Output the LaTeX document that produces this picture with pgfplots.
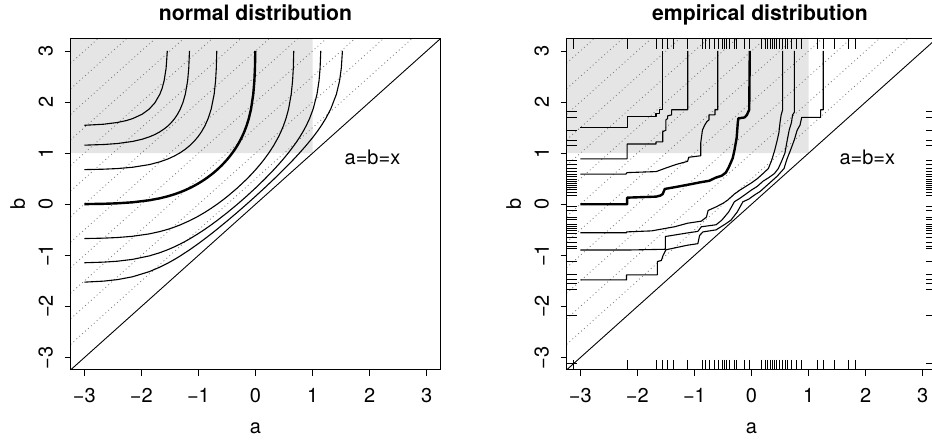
\documentclass[border=0pt]{standalone}
\usepackage{pgfplots}
\pgfplotsset{compat=1.18}
\usepackage{pgfplotstable}
\usepackage{fontspec}
\setmainfont{TeX Gyre Heros}
\definecolor{shade}{RGB}{229,229,229}
\definecolor{dotc}{RGB}{120,120,120}

\pgfplotstableread{
v bot top lft rgt
-3.123 -3.1422 3.1422 -3.1524 3.1524
-2.18 -3.1422 3.1422 -3.1524 3.1524
-1.674 -3.1422 3.1422 -3.1524 3.1524
-1.556 -3.1422 3.1422 -3.1524 3.1524
-1.469 -3.1422 3.1422 -3.1524 3.1524
-1.37 -3.1422 3.1422 -3.1524 3.1524
-1.118 -3.1422 3.1422 -3.1524 3.1524
-0.855 -3.1422 3.1422 -3.1524 3.1524
-0.815 -3.1422 3.1422 -3.1524 3.1524
-0.74 -3.1422 3.1422 -3.1524 3.1524
-0.652 -3.1422 3.1422 -3.1524 3.1524
-0.58 -3.1422 3.1422 -3.1524 3.1524
-0.517 -3.1422 3.1422 -3.1524 3.1524
-0.476 -3.1422 3.1422 -3.1524 3.1524
-0.435 -3.1422 3.1422 -3.1524 3.1524
-0.389 -3.1422 3.1422 -3.1524 3.1524
-0.30 -3.1422 3.1422 -3.1524 3.1524
-0.26 -3.1422 3.1422 -3.1524 3.1524
-0.126 -3.1422 3.1422 -3.1524 3.1524
-0.04 -3.1422 3.1422 -3.1524 3.1524
0.166 -3.1422 3.1422 -3.1524 3.1524
0.236 -3.1422 3.1422 -3.1524 3.1524
0.283 -3.1422 3.1422 -3.1524 3.1524
0.324 -3.1422 3.1422 -3.1524 3.1524
0.371 -3.1422 3.1422 -3.1524 3.1524
0.41 -3.1422 3.1422 -3.1524 3.1524
0.44 -3.1422 3.1422 -3.1524 3.1524
0.487 -3.1422 3.1422 -3.1524 3.1524
0.546 -3.1422 3.1422 -3.1524 3.1524
0.592 -3.1422 3.1422 -3.1524 3.1524
0.634 -3.1422 3.1422 -3.1524 3.1524
0.692 -3.1422 3.1422 -3.1524 3.1524
0.78 -3.1422 3.1422 -3.1524 3.1524
0.867 -3.1422 3.1422 -3.1524 3.1524
1.148 -3.1422 3.1422 -3.1524 3.1524
1.258 -3.1422 3.1422 -3.1524 3.1524
1.45 -3.1422 3.1422 -3.1524 3.1524
1.703 -3.1422 3.1422 -3.1524 3.1524
1.813 -3.1422 3.1422 -3.1524 3.1524
}\rugdata

\tikzset{refdot/.style={dotc, line width=0.8pt, dash pattern=on 0.9pt off 3pt}}
\newcommand{\refset}{%
  \addplot[fill=shade, draw=none] coordinates {(-3.24,1) (1,1) (1,3.24) (-3.24,3.24) (-3.24,1)};
  \addplot[refdot] coordinates {(-3.24,-2.74) (2.74,3.24)};
  \addplot[refdot] coordinates {(-3.24,-2.24) (2.24,3.24)};
  \addplot[refdot] coordinates {(-3.24,-1.74) (1.74,3.24)};
  \addplot[refdot] coordinates {(-3.24,-1.24) (1.24,3.24)};
  \addplot[refdot] coordinates {(-3.24,-0.74) (0.74,3.24)};
  \addplot[refdot] coordinates {(-3.24,-0.24) (0.24,3.24)};
  \addplot[refdot] coordinates {(-3.24,0.26) (-0.26,3.24)};
  \addplot[refdot] coordinates {(-3.24,0.76) (-0.76,3.24)};
  \addplot[refdot] coordinates {(-3.24,1.26) (-1.26,3.24)};
  \addplot[refdot] coordinates {(-3.24,1.76) (-1.76,3.24)};
  \addplot[refdot] coordinates {(-3.24,2.26) (-2.26,3.24)};
  \addplot[refdot] coordinates {(-3.24,2.76) (-2.76,3.24)};
  \addplot[black, line width=0.9pt] coordinates {(-3.24,-3.24) (3.24,3.24)};
}

\pgfplotsset{
 rplot/.style={
  scale only axis, width=369.8pt, height=331.2pt,
  xmin=-3.24, xmax=3.24, ymin=-3.24, ymax=3.24,
  clip=false,
  axis on top,
  axis line style={black, line width=0.9pt},
  xtick={-3,-2,-1,0,1,2,3}, ytick={-3,-2,-1,0,1,2,3},
  xticklabels={−3,−2,−1,0,1,2,3}, yticklabels={−3,−2,−1,0,1,2,3},
  tick align=outside, major tick length=6pt,
  tick style={black, line width=0.9pt},
  xtick pos=bottom, ytick pos=left,
  tick label style={font=\fontsize{20}{24}\selectfont},
  xticklabel style={anchor=north, inner sep=0pt},
  yticklabel style={rotate=90, anchor=south, inner sep=0pt},
  xticklabel shift=12pt, yticklabel shift=11.5pt,
  xlabel={a}, ylabel={b},
  label style={font=\fontsize{20}{24}\selectfont},
  xlabel style={at={(axis description cs:0.5,-0.175)}, anchor=center},
  ylabel style={at={(axis description cs:-0.143,0.5)}, anchor=center},
  every axis plot/.append style={line join=round},
 }
}
\newcommand{\ttl}{\fontsize{21.2}{25}\selectfont\bfseries}

\begin{document}
\begin{tikzpicture}
% ---------------- left panel ----------------
\begin{axis}[rplot, at={(70.6pt,72.1pt)}, anchor=south west]
\refset
\addplot[black, line width=1.1pt] coordinates {(-3,-1.5233) (-2.66,-1.5031) (-2.418,-1.4735) (-2.154,-1.4178) (-1.8627,-1.3180) (-1.6762,-1.2299) (-1.5341,-1.1503) (-1.4178,-1.0776) (-1.3180,-1.0100) (-1.1503,-0.8870) (-1.0100,-0.7764) (-0.8870,-0.6745) (-0.7764,-0.5792) (-0.6745,-0.4888) (-0.4888,-0.3186) (-0.3186,-0.1573) (-0.1573,0) (0,0.1573) (0.1573,0.3186) (0.3186,0.4888) (0.4888,0.6745) (0.5792,0.7764) (0.6745,0.8870) (0.7764,1.0100) (0.8870,1.1503) (1.0100,1.3180) (1.0776,1.4178) (1.1503,1.5341) (1.2299,1.6762) (1.3180,1.8627) (1.4178,2.154) (1.4735,2.418) (1.5031,2.66) (1.5233,3)};
\addplot[black, line width=1.1pt] coordinates {(-3,-1.1438) (-2.66,-1.1316) (-2.418,-1.1133) (-2.154,-1.0776) (-1.8627,-1.0100) (-1.6762,-0.9469) (-1.5341,-0.8870) (-1.4178,-0.8306) (-1.3180,-0.7764) (-1.2299,-0.7246) (-1.1503,-0.6745) (-1.0100,-0.5792) (-0.8870,-0.4888) (-0.7764,-0.4023) (-0.6745,-0.3186) (-0.4888,-0.1573) (-0.3186,0) (-0.1573,0.1573) (0,0.3186) (0.1573,0.4888) (0.3186,0.6745) (0.4023,0.7764) (0.4888,0.8870) (0.5792,1.0100) (0.6745,1.1503) (0.7246,1.2299) (0.7764,1.3180) (0.8306,1.4178) (0.8870,1.5341) (0.9469,1.6762) (1.0100,1.8627) (1.0776,2.154) (1.1133,2.418) (1.1316,2.66) (1.1438,3)};
\addplot[black, line width=1.1pt] coordinates {(-3,-0.6703) (-2.66,-0.6623) (-2.418,-0.6500) (-2.154,-0.6259) (-1.8627,-0.5792) (-1.6762,-0.5335) (-1.5341,-0.4888) (-1.4178,-0.4452) (-1.3180,-0.4023) (-1.1503,-0.3186) (-1.0100,-0.2372) (-0.8870,-0.1573) (-0.7764,-0.0784) (-0.6745,0) (-0.5792,0.0784) (-0.4888,0.1573) (-0.3186,0.3186) (-0.1573,0.4888) (-0.0784,0.5792) (0,0.6745) (0.0784,0.7764) (0.1573,0.8870) (0.2372,1.0100) (0.3186,1.1503) (0.4023,1.3180) (0.4452,1.4178) (0.4888,1.5341) (0.5335,1.6762) (0.5792,1.8627) (0.6259,2.154) (0.6500,2.418) (0.6623,2.66) (0.6703,3)};
\addplot[black, line width=2.4pt] coordinates {(-3,0.0034) (-2.66,0.0098) (-2.418,0.0196) (-2.154,0.0392) (-1.8627,0.0784) (-1.6762,0.1178) (-1.5341,0.1573) (-1.4178,0.1971) (-1.3180,0.2372) (-1.2299,0.2776) (-1.1503,0.3186) (-1.0776,0.3601) (-1.0100,0.4023) (-0.9469,0.4452) (-0.8870,0.4888) (-0.8306,0.5335) (-0.7764,0.5792) (-0.7246,0.6259) (-0.6745,0.6745) (-0.6259,0.7246) (-0.5792,0.7764) (-0.5335,0.8306) (-0.4888,0.8870) (-0.4452,0.9469) (-0.4023,1.0100) (-0.3601,1.0776) (-0.3186,1.1503) (-0.2776,1.2299) (-0.2372,1.3180) (-0.1971,1.4178) (-0.1573,1.5341) (-0.1178,1.6762) (-0.0784,1.8627) (-0.0392,2.154) (-0.0196,2.418) (-0.0098,2.66) (-0.0034,3)};
\addplot[black, line width=1.1pt] coordinates {(-3,0.6787) (-2.66,0.6869) (-2.418,0.6994) (-2.154,0.7246) (-1.8627,0.7764) (-1.6762,0.8306) (-1.5341,0.8870) (-1.4178,0.9469) (-1.3180,1.0100) (-1.2299,1.0776) (-1.1503,1.1503) (-1.0776,1.2299) (-1.0100,1.3180) (-0.9469,1.4178) (-0.8870,1.5341) (-0.8306,1.6762) (-0.7764,1.8627) (-0.7246,2.154) (-0.6994,2.418) (-0.6869,2.66) (-0.6787,3)};
\addplot[black, line width=1.1pt] coordinates {(-3,1.1569) (-2.66,1.1697) (-2.418,1.1891) (-2.154,1.2299) (-1.9875,1.2727) (-1.8627,1.3180) (-1.7616,1.3662) (-1.6762,1.4178) (-1.601,1.4735) (-1.5341,1.5341) (-1.4735,1.601) (-1.4178,1.6762) (-1.3662,1.7616) (-1.3180,1.8627) (-1.2727,1.9875) (-1.2299,2.154) (-1.1891,2.418) (-1.1697,2.66) (-1.1569,3)};
\addplot[black, line width=1.1pt] coordinates {(-3,1.5452) (-2.66,1.5667) (-2.418,1.601) (-2.2663,1.6373) (-2.154,1.6762) (-1.9875,1.7616) (-1.8627,1.8627) (-1.7616,1.9875) (-1.6762,2.154) (-1.6373,2.2663) (-1.601,2.418) (-1.5667,2.66) (-1.5452,3)};
\node[font=\fontsize{20}{24}\selectfont] at (axis cs:2.05,0.92) {a=b=x};
\node[font=\ttl, anchor=base, inner sep=0pt, yshift=17.7pt] at (rel axis cs:0.5,1) {normal distribution};
\end{axis}
% ---------------- right panel ----------------
\begin{axis}[rplot, at={(566.6pt,72.1pt)}, anchor=south west]
\refset
% lower curves
\addplot[black, line width=1.1pt] coordinates {(-3,-1.48) (-2.19,-1.48) (-2.19,-1.38) (-1.65,-1.38) (-1.65,-1.12) (-1.58,-1.1) (-1.55,-1.0) (-1.5,-0.89) (-1.12,-0.80) (-0.94,-0.77) (-0.91,-0.61) (-0.85,-0.54) (-0.62,-0.50) (-0.45,-0.38) (-0.36,-0.31) (-0.25,-0.15) (-0.15,0.05) (-0.05,0.1) (0.05,0.18) (0.15,0.25) (0.25,0.35) (0.35,0.45) (0.45,0.55) (0.57,0.7) (0.62,0.88) (0.68,1.05) (0.75,1.26) (0.8,1.45) (0.85,1.55) (0.88,1.7) (1.21,1.7) (1.21,1.85) (1.258,1.85) (1.258,3)};
\addplot[black, line width=1.1pt] coordinates {(-3,-0.895) (-2.19,-0.895) (-1.51,-0.88) (-1.51,-0.63) (-1.12,-0.56) (-0.94,-0.53) (-0.88,-0.44) (-0.62,-0.40) (-0.52,-0.31) (-0.4,-0.15) (-0.3,0.05) (-0.2,0.12) (-0.1,0.2) (0,0.28) (0.1,0.35) (0.2,0.45) (0.3,0.52) (0.4,0.6) (0.47,0.7) (0.53,0.85) (0.585,1.0) (0.627,1.26) (0.66,1.45) (0.7,1.6) (0.72,1.75) (0.75,1.8) (0.75,3)};
\addplot[black, line width=1.1pt] coordinates {(-3,-0.556) (-2.19,-0.556) (-2.19,-0.54) (-1.75,-0.52) (-1.6,-0.49) (-1.35,-0.44) (-1.12,-0.37) (-0.88,-0.33) (-0.79,-0.25) (-0.76,-0.12) (-0.62,-0.05) (-0.5,0.02) (-0.42,0.08) (-0.3,0.2) (-0.2,0.28) (-0.1,0.35) (0,0.42) (0.1,0.5) (0.2,0.6) (0.295,0.7) (0.35,0.85) (0.41,1.07) (0.45,1.25) (0.48,1.4) (0.5,1.6) (0.52,1.75) (0.546,1.85) (0.546,3)};
% thick curve
\addplot[black, line width=2.4pt] coordinates {(-3,0) (-2.18,0) (-2.18,0.13) (-1.67,0.15) (-1.6,0.17) (-1.556,0.2) (-1.52,0.3) (-1.32,0.34) (-1.08,0.39) (-0.9,0.43) (-0.74,0.46) (-0.63,0.52) (-0.52,0.56) (-0.45,0.62) (-0.4,0.72) (-0.33,0.9) (-0.3,1.05) (-0.26,1.3) (-0.24,1.6) (-0.23,1.68) (-0.12,1.7) (-0.08,1.75) (-0.04,1.85) (-0.03,3)};
% upper curves
\addplot[black, line width=1.1pt] coordinates {(-3,0.59) (-2.2,0.59) (-2.18,0.62) (-1.67,0.64) (-1.5,0.71) (-1.32,0.78) (-1.12,0.84) (-1.1,0.92) (-0.89,0.95) (-0.89,1.2) (-0.86,1.45) (-0.82,1.55) (-0.78,1.62) (-0.745,1.65) (-0.745,1.75) (-0.64,1.75) (-0.64,1.85) (-0.592,1.85) (-0.592,3)};
\addplot[black, line width=1.1pt] coordinates {(-3,0.89) (-2.18,0.89) (-2.18,1.18) (-1.674,1.18) (-1.674,1.22) (-1.556,1.22) (-1.556,1.42) (-1.5,1.45) (-1.5,1.65) (-1.469,1.68) (-1.469,1.73) (-1.40,1.75) (-1.40,1.85) (-1.118,1.85) (-1.118,3)};
\addplot[black, line width=1.1pt] coordinates {(-3,1.50) (-2.18,1.50) (-2.18,1.72) (-1.674,1.72) (-1.674,1.78) (-1.62,1.78) (-1.62,1.85) (-1.556,1.85) (-1.556,3)};
% rugs
\addplot[only marks, mark=|, mark size=5pt, mark options={line width=0.9pt, black}] table[x=v, y=bot] {\rugdata};
\addplot[only marks, mark=|, mark size=5pt, mark options={line width=0.9pt, black}] table[x=v, y=top] {\rugdata};
\addplot[only marks, mark=-, mark size=5pt, mark options={line width=0.9pt, black}] table[x=lft, y=v] {\rugdata};
\addplot[only marks, mark=-, mark size=5pt, mark options={line width=0.9pt, black}] table[x=rgt, y=v] {\rugdata};
\node[font=\fontsize{20}{24}\selectfont] at (axis cs:2.03,0.92) {a=b=x};
\node[font=\ttl, anchor=base, inner sep=0pt, yshift=17.7pt] at (rel axis cs:0.523,1) {empirical distribution};
\end{axis}
\pgfresetboundingbox
\path[use as bounding box] (0,0) rectangle (932pt,442pt);
\end{tikzpicture}
\end{document}
